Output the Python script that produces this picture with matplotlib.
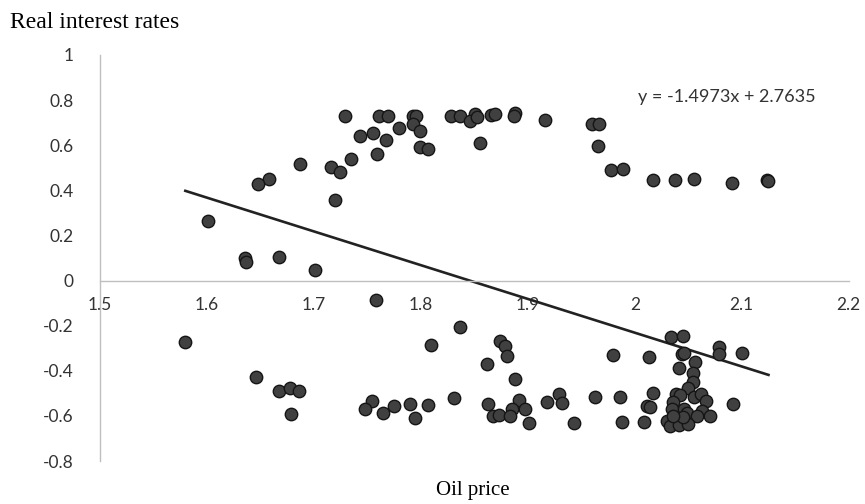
import matplotlib
matplotlib.use("Agg")
import matplotlib.pyplot as plt
import numpy as np

# Data
oil_price = [
    1.729, 1.761, 1.769, 1.793, 1.796, 1.828, 1.837, 1.851, 1.846, 1.743,
    1.755, 1.780, 1.793, 1.799, 1.768, 1.799, 1.807, 1.855, 1.759, 1.735,
    1.687, 1.716, 1.725, 1.658, 1.648, 1.720, 1.601, 1.636, 1.637, 1.668,
    1.701, 1.853, 1.866, 1.869, 1.888, 1.887, 1.916, 1.960, 1.967, 1.966,
    1.978, 1.989, 2.017, 2.038, 2.055, 2.091, 2.124, 2.125,
    1.758, 1.580, 1.837, 1.810, 1.646, 1.668, 1.678, 1.686, 1.679, 1.754,
    1.748, 1.765, 1.775, 1.790, 1.795, 1.807, 1.831, 1.874, 1.879, 1.881,
    1.862, 1.888, 1.863, 1.892, 1.885, 1.897, 1.868, 1.873, 1.883, 1.901,
    1.918, 1.929, 1.932, 1.943, 1.963, 1.986, 1.980, 2.013, 1.988, 2.009,
    2.011, 2.014, 2.017, 2.034, 2.045, 2.044, 2.046, 2.056, 2.041, 2.054,
    2.054, 2.050, 2.079, 2.079, 2.100, 2.092, 2.039, 2.042, 2.055, 2.062,
    2.067, 2.036, 2.035, 2.046, 2.049, 2.063, 2.058, 2.070, 2.030, 2.033,
    2.041, 2.050, 2.045, 2.036,
]
real_rates = [
    0.730, 0.730, 0.730, 0.730, 0.730, 0.730, 0.730, 0.740, 0.708, 0.642,
    0.652, 0.677, 0.692, 0.665, 0.621, 0.593, 0.581, 0.612, 0.562, 0.537,
    0.517, 0.502, 0.481, 0.452, 0.427, 0.356, 0.262, 0.098, 0.081, 0.103,
    0.047, 0.725, 0.736, 0.740, 0.745, 0.728, 0.712, 0.696, 0.696, 0.597,
    0.491, 0.496, 0.446, 0.446, 0.452, 0.433, 0.446, 0.440,
    -0.088, -0.271, -0.207, -0.287, -0.427, -0.490, -0.476, -0.491, -0.592, -0.536,
    -0.571, -0.586, -0.556, -0.547, -0.609, -0.551, -0.521, -0.266, -0.290, -0.336,
    -0.371, -0.437, -0.546, -0.530, -0.570, -0.571, -0.600, -0.596, -0.600, -0.631,
    -0.537, -0.505, -0.542, -0.631, -0.515, -0.515, -0.331, -0.341, -0.627, -0.627,
    -0.556, -0.561, -0.500, -0.250, -0.247, -0.324, -0.319, -0.361, -0.387, -0.411,
    -0.449, -0.476, -0.294, -0.325, -0.319, -0.546, -0.503, -0.506, -0.518, -0.503,
    -0.536, -0.540, -0.570, -0.570, -0.589, -0.577, -0.599, -0.600, -0.624, -0.643,
    -0.639, -0.636, -0.606, -0.599,
]
slope = -1.4973
intercept = 2.7635
x_ticks = [1.5, 1.6, 1.7, 1.8, 1.9, 2.0, 2.1, 2.2]
x_tick_labels = ["1.5", "1.6", "1.7", "1.8", "1.9", "2", "2.1", "2.2"]
y_ticks = [-0.8, -0.6, -0.4, -0.2, 0, 0.2, 0.4, 0.6, 0.8, 1.0]
y_tick_labels = ["-0.8", "-0.6", "-0.4", "-0.2", "0", "0.2", "0.4", "0.6", "0.8", "1"]

fig = plt.figure(figsize=(8.65, 5.04), dpi=100)
ax = fig.add_axes([0.1153, 0.0853, 0.9812 - 0.1153, 0.8909 - 0.0853])

ax.scatter(oil_price, real_rates, s=80, facecolor="#404040", edgecolor="#151515",
           linewidth=1.0, zorder=3)

xs = np.array([min(oil_price), max(oil_price)])
ax.plot(xs, slope * xs + intercept, color="#222222", linewidth=1.9, zorder=2)

ax.set_xlim(1.5, 2.2)
ax.set_ylim(-0.8, 1.0)

for s in ["top", "right"]:
    ax.spines[s].set_visible(False)
ax.spines["left"].set_color("#BFBFBF")
ax.spines["left"].set_linewidth(1.0)
ax.spines["bottom"].set_position(("data", 0))
ax.spines["bottom"].set_color("#BFBFBF")
ax.spines["bottom"].set_linewidth(1.0)

tick_font = "Lato"
ax.set_xticks(x_ticks)
ax.set_xticklabels(x_tick_labels, fontsize=12.5, color="#333333", family=tick_font)
ax.set_yticks(y_ticks)
ax.set_yticklabels(y_tick_labels, fontsize=12.5, color="#333333", family=tick_font)
ax.tick_params(axis="both", length=0)
ax.tick_params(axis="x", pad=12)
ax.tick_params(axis="y", pad=19)

ax.text(2.003, 0.812, "y = -1.4973x + 2.7635", fontsize=13, color="#333333",
        family=tick_font, ha="left", va="center")

fig.text(10 / 865, 1 - 22 / 504, "Real interest rates", fontsize=17,
         family="Liberation Serif", ha="left", va="center", color="black")
fig.text(473 / 865, 1 - 490 / 504, "Oil price", fontsize=15,
         family="Liberation Serif", ha="center", va="center", color="black")

fig.savefig("out.png", dpi=100)
